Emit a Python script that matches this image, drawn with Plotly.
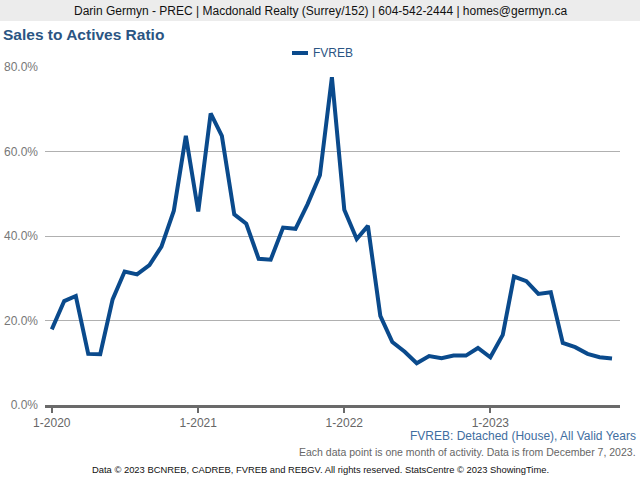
import plotly.graph_objects as go

months = [f"{y}-{m:02d}-01" for y in range(2020, 2024) for m in range(1, 13)][:47]
fvreb = [17.9, 24.6, 25.8, 12.1, 12.0, 25.0, 31.6, 30.9, 33.1, 37.5, 46.0, 63.7,
         45.8, 69.0, 63.7, 45.1, 42.9, 34.6, 34.4, 42.0, 41.7, 47.5, 54.4, 77.6,
         46.2, 39.3, 42.4, 21.1, 14.9, 12.6, 9.9, 11.6, 11.1, 11.7, 11.7, 13.5,
         11.3, 16.6, 30.4, 29.3, 26.3, 26.7, 14.7, 13.7, 12.1, 11.3, 11.0]
tick_vals = ["2020-01-01", "2021-01-01", "2022-01-01", "2023-01-01"]
tick_text = ["1-2020", "1-2021", "1-2022", "1-2023"]
y_ticks = [0, 20, 40, 60, 80]
y_tick_text = ["0.0%", "20.0%", "40.0%", "60.0%", "80.0%"]

W, H = 640, 480
L, R, T, B = 45, 620, 67, 405
FONT = "Liberation Sans, Arial, sans-serif"
LINE = "#0a4a8c"


def px(x):
    return (x - L) / (R - L)


def py(y):
    return (B - y) / (B - T)


fig = go.Figure()
fig.add_trace(go.Scatter(x=months, y=fvreb, mode="lines", name="FVREB",
                         line=dict(color=LINE, width=4), showlegend=False))

shapes = [
    dict(type="rect", xref="paper", yref="paper", x0=px(0), x1=px(W), y0=py(21), y1=py(0),
         fillcolor="#ececec", line=dict(width=0), layer="below"),
    dict(type="line", xref="paper", yref="paper", x0=px(292), x1=px(308), y0=py(53), y1=py(53),
         line=dict(color=LINE, width=4)),
]

annotations = [
    dict(text="Darin Germyn - PREC | Macdonald Realty (Surrey/152) | 604-542-2444 | homes@germyn.ca",
         x=px(320), y=py(11), xanchor="center", yanchor="middle",
         font=dict(family=FONT, size=12, color="#111111")),
    dict(text="<b>Sales to Actives Ratio</b>", x=px(1), y=py(34), xanchor="left", yanchor="middle",
         font=dict(family=FONT, size=15.5, color="#2b5583")),
    dict(text="FVREB", x=px(311), y=py(53), xanchor="left", yanchor="middle",
         font=dict(family=FONT, size=12, color="#2b5583")),
    dict(text="FVREB: Detached (House), All Valid Years", x=px(638), y=py(436),
         xanchor="right", yanchor="middle", font=dict(family=FONT, size=12, color="#3f6e9f")),
    dict(text="Each data point is one month of activity. Data is from December 7, 2023.",
         x=px(638), y=py(452), xanchor="right", yanchor="middle",
         font=dict(family=FONT, size=10.5, color="#666666")),
    dict(text="Data © 2023 BCNREB, CADREB, FVREB and REBGV. All rights reserved. StatsCentre © 2023 ShowingTime.",
         x=px(320), y=py(469), xanchor="center", yanchor="middle",
         font=dict(family=FONT, size=9.4, color="#111111")),
]
for a in annotations:
    a.update(xref="paper", yref="paper", showarrow=False)

fig.update_layout(
    width=W, height=H,
    margin=dict(l=L, r=W - R, t=T, b=H - B, pad=0, autoexpand=False),
    paper_bgcolor="white", plot_bgcolor="white",
    shapes=shapes, annotations=annotations,
    xaxis=dict(type="date", range=["2019-12-15", "2023-11-21"],
               tickvals=tick_vals, ticktext=tick_text, automargin=False,
               showgrid=False, zeroline=False,
               showline=True, linecolor="#6a6a6a", linewidth=3,
               ticks="outside", ticklen=5, tickwidth=2, tickcolor="#6a6a6a",
               tickfont=dict(family=FONT, size=12, color="#666666")),
    yaxis=dict(range=[0, 80], tickvals=y_ticks, ticktext=y_tick_text, automargin=False,
               showgrid=True, gridcolor="#b0b0b0", gridwidth=1, zeroline=False,
               showline=False, ticks="", ticklabelstandoff=6,
               tickfont=dict(family=FONT, size=12, color="#777777")),
)

fig.write_html("out.html")
